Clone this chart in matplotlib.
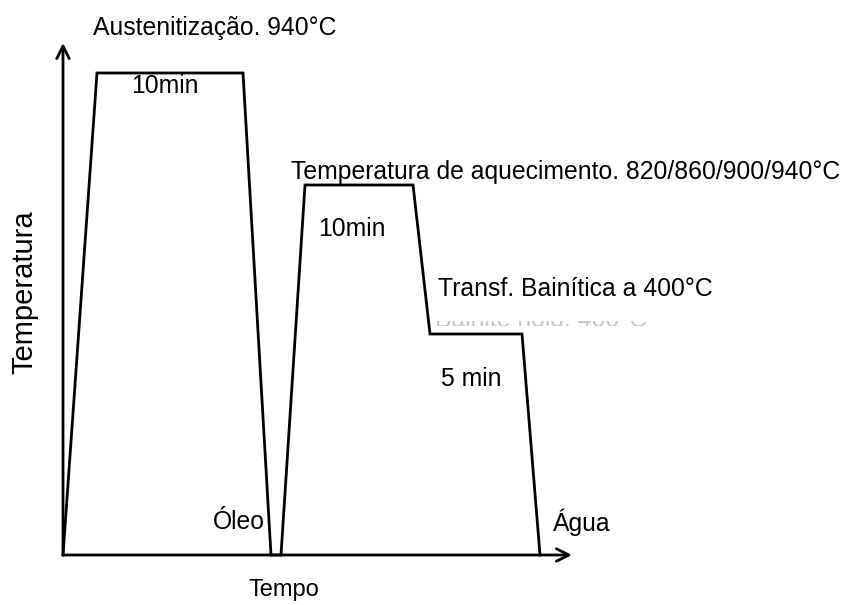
import matplotlib.pyplot as plt
from matplotlib.transforms import Bbox, TransformedBbox

plt.rcParams['font.family'] = ['Liberation Sans', 'DejaVu Sans']

# heat treatment cycle: time (arbitrary units) vs. temperature (arbitrary units)
tempo = [0, 34, 180, 208, 218, 242, 350, 367, 459, 477]
temperatura = [0, 482, 482, 0, 0, 370, 370, 221, 221, 0]

fig = plt.figure(figsize=(8.47, 6.05), dpi=100)
ax = fig.add_axes([0, 0, 1, 1])
ax.set_xlim(-63, 784)
ax.set_ylim(-50, 555)
ax.axis('off')

# axes with open arrow heads
arrow = dict(arrowstyle='->,head_length=0.9,head_width=0.45', lw=2, color='black',
             shrinkA=0, shrinkB=0)
ax.annotate('', xy=(0, 512), xytext=(0, 0), arrowprops=arrow)
ax.annotate('', xy=(509, 0), xytext=(0, 0), arrowprops=arrow)

ax.plot(tempo, temperatura, color='black', lw=2, solid_joinstyle='miter')

fs = 17.8
ax.text(30, 527, 'Austenitização. 940°C', fontsize=fs, va='center')
ax.text(102, 469, '10min', fontsize=fs, va='center', ha='center')
ax.text(228, 383, 'Temperatura de aquecimento. 820/860/900/940°C', fontsize=fs, va='center')
ax.text(289, 326, '10min', fontsize=fs, va='center', ha='center')
ax.text(375, 266, 'Transf. Bainítica a 400°C', fontsize=fs, va='center')

# faded leftover label, only a thin strip of it still visible
ghost = ax.text(372, 229, 'Bainite hold, 400°C', fontsize=fs, va='baseline',
                color='#c8c8c8')
ghost.set_clip_box(TransformedBbox(Bbox([[360, 229], [660, 234]]), ax.transData))
ghost.set_clip_on(True)

ax.text(408, 176, '5 min', fontsize=fs, va='center', ha='center')
ax.text(176, 33, 'Óleo', fontsize=fs, va='center', ha='center')
ax.text(519, 33, 'Água', fontsize=fs, va='center', ha='center')
ax.text(221, -35, 'Tempo', fontsize=17, va='center', ha='center')
ax.text(-39, 263, 'Temperatura', fontsize=21, va='center', ha='center', rotation=90)

fig.savefig('out.png', dpi=100)
